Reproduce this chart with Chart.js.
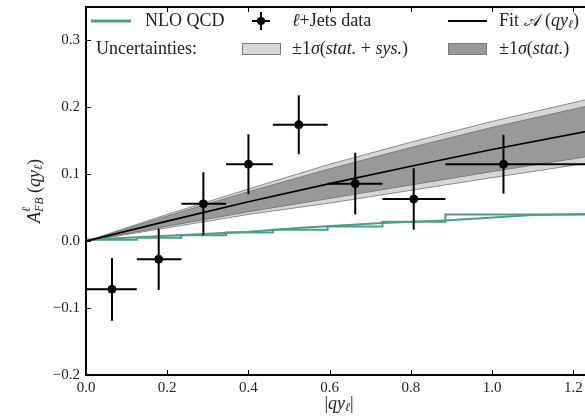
<!DOCTYPE html>
<html>
<head>
<meta charset="utf-8">
<script src="https://cdn.jsdelivr.net/npm/chart.js@4.4.0/dist/chart.umd.min.js"></script>
<style>
  html, body { margin: 0; padding: 0; background: #fff; overflow: hidden; }
  #wrap { width: 600px; height: 419px; position: relative; }
</style>
</head>
<body>
<div id="wrap"><canvas id="afb"></canvas></div>
<script>
// l+jets data, binned in |q*y_l|
var binEdges = [0, 0.125, 0.235, 0.345, 0.46, 0.595, 0.73, 0.885, 1.3];
var dataX = [0.064, 0.179, 0.289, 0.400, 0.524, 0.663, 0.807, 1.028];
var dataY = [-0.072, -0.027, 0.056, 0.115, 0.174, 0.086, 0.063, 0.115];
var dataErr = [0.047, 0.046, 0.047, 0.045, 0.044, 0.046, 0.046, 0.044];

// NLO QCD, per bin and as a curve
var nloBins = [0.002, 0.005, 0.009, 0.013, 0.017, 0.022, 0.029, 0.040];
var nloCurveX = [0, 0.2, 0.4, 0.53, 0.73, 0.885, 1.1, 1.3];
var nloCurveY = [0.002, 0.008, 0.014, 0.020, 0.027, 0.031, 0.039, 0.041];

// fit A(qy) and its +-1 sigma half widths
var fitX = [0, 0.2, 0.4, 0.6, 0.8, 1.0, 1.25];
var fitY = [0, 0.030, 0.059, 0.086, 0.112, 0.137, 0.166];
var fitStat = [0, 0.0075, 0.015, 0.022, 0.028, 0.033, 0.038];
var fitTotal = [0, 0.010, 0.019, 0.029, 0.036, 0.042, 0.048];

var xTicks = [0, 0.2, 0.4, 0.6, 0.8, 1.0, 1.2];
var xTickLabels = ['0.0', '0.2', '0.4', '0.6', '0.8', '1.0', '1.2'];
var yTicks = [-0.2, -0.1, 0, 0.1, 0.2, 0.3];
var yTickLabels = ['\u22120.2', '\u22120.1', '0.0', '0.1', '0.2', '0.3'];

var serif = '"Liberation Serif", "DejaVu Serif", serif';
var green = '#4d9f7f';

function pts(xs, ys) {
  return xs.map(function (x, i) { return {x: x, y: ys[i]}; });
}
function shifted(sign, widths) {
  return fitX.map(function (x, i) { return {x: x, y: fitY[i] + sign * widths[i]}; });
}

var nloStep = binEdges.map(function (x, i) {
  return {x: x, y: nloBins[Math.min(i, nloBins.length - 1)]};
});

// draw a run of text pieces (italic / sub / sup) starting at x
function textRun(ctx, parts, x, y, align) {
  var total = 0;
  parts.forEach(function (p) {
    ctx.font = (p.i ? 'italic ' : '') + (p.s || 18) + 'px ' + serif;
    p.w = ctx.measureText(p.t).width;
    if (!p.hold) total += p.w;
  });
  if (align === 'center') x -= total / 2;
  var held = 0;
  parts.forEach(function (p) {
    ctx.font = (p.i ? 'italic ' : '') + (p.s || 18) + 'px ' + serif;
    ctx.fillText(p.t, x, y + (p.dy || 0));
    if (p.hold) held = p.w; else { x += Math.max(p.w, held); held = 0; }
  });
}

var errorBars = {
  id: 'errorBars',
  beforeDatasetDraw: function (chart, args) {
    if (args.index !== 0) return;
    var ctx = chart.ctx, xs = chart.scales.x, ys = chart.scales.y, a = chart.chartArea;
    ctx.save();
    ctx.beginPath();
    ctx.rect(a.left, a.top, a.right - a.left, a.bottom - a.top);
    ctx.clip();
    ctx.strokeStyle = '#000';
    ctx.lineWidth = 2;
    ctx.beginPath();
    for (var i = 0; i < dataX.length; i++) {
      var cx = xs.getPixelForValue(dataX[i]), cy = ys.getPixelForValue(dataY[i]);
      ctx.moveTo(xs.getPixelForValue(binEdges[i]), cy);
      ctx.lineTo(xs.getPixelForValue(binEdges[i + 1]), cy);
      ctx.moveTo(cx, ys.getPixelForValue(dataY[i] + dataErr[i]));
      ctx.lineTo(cx, ys.getPixelForValue(dataY[i] - dataErr[i]));
    }
    ctx.stroke();
    ctx.restore();
  }
};

// frame with inward ticks, axis titles and the two-row legend
var decorations = {
  id: 'decorations',
  afterDraw: function (chart) {
    var ctx = chart.ctx, a = chart.chartArea, xs = chart.scales.x, ys = chart.scales.y;
    ctx.save();
    ctx.strokeStyle = '#000';
    ctx.lineWidth = 1;
    ctx.beginPath();
    xTicks.forEach(function (v) {
      var p = Math.round(xs.getPixelForValue(v)) + 0.5;
      ctx.moveTo(p, a.bottom); ctx.lineTo(p, a.bottom - 5);
      ctx.moveTo(p, a.top); ctx.lineTo(p, a.top + 5);
    });
    yTicks.forEach(function (v) {
      var p = Math.round(ys.getPixelForValue(v)) + 0.5;
      ctx.moveTo(a.left, p); ctx.lineTo(a.left + 5, p);
      ctx.moveTo(a.right, p); ctx.lineTo(a.right - 5, p);
    });
    ctx.stroke();
    ctx.lineWidth = 2;
    ctx.strokeRect(a.left, a.top, a.right - a.left, a.bottom - a.top);

    ctx.fillStyle = '#222';
    ctx.textBaseline = 'middle';
    // x title |q y_l|
    textRun(ctx, [
      {t: '|'}, {t: 'qy', i: true}, {t: '\u2113', i: true, s: 12, dy: 4}, {t: '|'}
    ], (a.left + a.right) / 2, 404, 'center');
    // y title A^l_FB (q y_l)
    ctx.save();
    ctx.translate(35, (a.top + a.bottom) / 2);
    ctx.rotate(-Math.PI / 2);
    textRun(ctx, [
      {t: 'A', i: true},
      {t: '\u2113', i: true, s: 12, dy: -8, hold: true},
      {t: 'FB', i: true, s: 12, dy: 5},
      {t: ' ('}, {t: 'qy', i: true}, {t: '\u2113', i: true, s: 12, dy: 4}, {t: ')'}
    ], 0, 0, 'center');
    ctx.restore();

    // legend, first row
    var r1 = 21, r2 = 49;
    ctx.lineWidth = 3;
    ctx.strokeStyle = green;
    ctx.beginPath(); ctx.moveTo(91, r1); ctx.lineTo(131, r1); ctx.stroke();
    textRun(ctx, [{t: 'NLO QCD'}], 145, r1);
    ctx.strokeStyle = '#000';
    ctx.lineWidth = 2;
    ctx.beginPath();
    ctx.moveTo(252, r1); ctx.lineTo(270, r1);
    ctx.moveTo(261, r1 - 9); ctx.lineTo(261, r1 + 9);
    ctx.stroke();
    ctx.fillStyle = '#000';
    ctx.beginPath(); ctx.arc(261, r1, 4, 0, Math.PI * 2); ctx.fill();
    ctx.fillStyle = '#222';
    textRun(ctx, [{t: '\u2113', i: true}, {t: '+Jets data'}], 292, r1);
    ctx.lineWidth = 2;
    ctx.beginPath(); ctx.moveTo(448, r1); ctx.lineTo(487, r1); ctx.stroke();
    textRun(ctx, [
      {t: 'Fit '}, {t: '\ud835\udc9c'}, {t: ' ('}, {t: 'qy', i: true},
      {t: '\u2113', i: true, s: 12, dy: 4}, {t: ')'}
    ], 499, r1);

    // legend, second row
    textRun(ctx, [{t: 'Uncertainties:'}], 96, r2);
    ctx.lineWidth = 1;
    ctx.strokeStyle = '#7a7a7a';
    ctx.fillStyle = '#d6d6d6';
    ctx.fillRect(242, r2 - 6, 39, 12); ctx.strokeRect(242.5, r2 - 5.5, 38, 11);
    ctx.fillStyle = '#999999';
    ctx.fillRect(448, r2 - 6, 39, 12); ctx.strokeRect(448.5, r2 - 5.5, 38, 11);
    ctx.fillStyle = '#222';
    textRun(ctx, [
      {t: '\u00b11'}, {t: '\u03c3', i: true}, {t: '('}, {t: 'stat.', i: true},
      {t: ' + '}, {t: 'sys.', i: true}, {t: ')'}
    ], 292, r2);
    textRun(ctx, [
      {t: '\u00b11'}, {t: '\u03c3', i: true}, {t: '('}, {t: 'stat.', i: true}, {t: ')'}
    ], 499, r2);
    ctx.restore();
  }
};

var ctxAfb = document.getElementById('afb');
var afbChart = new Chart(ctxAfb, {
  type: 'scatter',
  data: {
    datasets: [
      {   // data points, error bars come from the errorBars plugin
        data: pts(dataX, dataY),
        backgroundColor: '#000',
        borderColor: '#000',
        pointRadius: 4,
        order: 0
      },
      {   // fit
        data: pts(fitX, fitY),
        showLine: true,
        borderColor: '#000',
        borderWidth: 1.6,
        pointRadius: 0,
        order: 1
      },
      {   // NLO per bin
        data: nloStep,
        showLine: true,
        stepped: true,
        borderColor: green,
        borderWidth: 2,
        pointRadius: 0,
        order: 2
      },
      {   // NLO curve
        data: pts(nloCurveX, nloCurveY),
        showLine: true,
        borderColor: green,
        borderWidth: 2,
        pointRadius: 0,
        order: 3
      },
      {   // stat band upper edge
        data: shifted(1, fitStat),
        showLine: true,
        borderColor: '#7a7a7a',
        borderWidth: 1,
        pointRadius: 0,
        order: 4
      },
      {   // stat band lower edge
        data: shifted(-1, fitStat),
        showLine: true,
        fill: '-1',
        backgroundColor: '#999999',
        borderColor: '#7a7a7a',
        borderWidth: 1,
        pointRadius: 0,
        order: 5
      },
      {   // stat+sys band upper edge
        data: shifted(1, fitTotal),
        showLine: true,
        borderColor: '#8a8a8a',
        borderWidth: 1,
        pointRadius: 0,
        order: 6
      },
      {   // stat+sys band lower edge
        data: shifted(-1, fitTotal),
        showLine: true,
        fill: '-1',
        backgroundColor: '#d6d6d6',
        borderColor: '#8a8a8a',
        borderWidth: 1,
        pointRadius: 0,
        order: 7
      }
    ]
  },
  options: {
    responsive: true,
    maintainAspectRatio: false,
    animation: false,
    layout: { padding: { top: 7, right: 8, left: 0, bottom: 0 } },
    plugins: {
      legend: { display: false },
      tooltip: { enabled: false }
    },
    scales: {
      x: {
        type: 'linear',
        min: 0,
        max: 1.246,
        afterBuildTicks: function (s) { s.ticks = xTicks.map(function (v) { return {value: v}; }); },
        afterFit: function (s) {
          s.height = 44;
          s.paddingLeft = 0;
          s.paddingRight = 0;
        },
        grid: { display: false, drawTicks: false },
        border: { display: false },
        ticks: {
          callback: function (v, i) { return xTickLabels[i]; },
          font: { family: serif, size: 15 },
          color: '#222',
          padding: 4,
          maxRotation: 0,
          autoSkip: false
        }
      },
      y: {
        type: 'linear',
        min: -0.2,
        max: 0.35,
        afterBuildTicks: function (s) { s.ticks = yTicks.map(function (v) { return {value: v}; }); },
        afterFit: function (s) {
          s.width = 86;
          s.paddingTop = 0;
          s.paddingBottom = 0;
        },
        grid: { display: false, drawTicks: false },
        border: { display: false },
        ticks: {
          callback: function (v, i) { return yTickLabels[i]; },
          font: { family: serif, size: 15 },
          color: '#222',
          padding: 6,
          autoSkip: false
        }
      }
    }
  },
  plugins: [errorBars, decorations]
});
</script>
</body>
</html>
